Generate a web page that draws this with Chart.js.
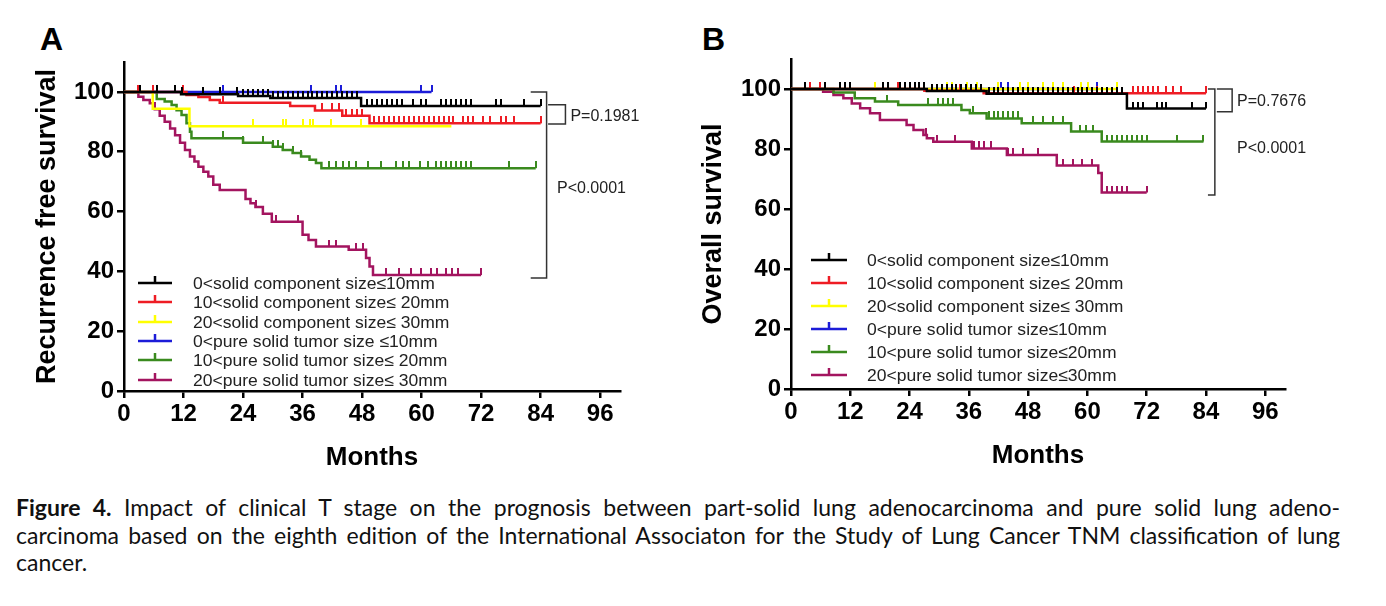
<!DOCTYPE html>
<html>
<head>
<meta charset="utf-8">
<script src="https://cdn.jsdelivr.net/npm/chart.js@4/dist/chart.umd.min.js"></script>
<style>
body { margin: 0; background: #fff; width: 1386px; height: 606px; position: relative; overflow: hidden; font-family: "Liberation Sans", Arial, sans-serif; }
.panel { position: absolute; top: 0; width: 690px; height: 480px; }
.letter { position: absolute; top: 23px; font: bold 32px/32px "Liberation Sans", Arial, sans-serif; color: #000; }
.caption { position: absolute; left: 16px; top: 494px; width: 1324px; font-family: Lato, "Noto Sans", sans-serif; font-size: 23px; line-height: 27.5px; color: #111; }
.caption .cl { text-align: justify; text-align-last: justify; }
</style>
</head>
<body>
<div class="letter" style="left:40px">A</div>
<div class="letter" style="left:702px">B</div>
<div class="panel" style="left:0px"><canvas id="chartA" width="690" height="480"></canvas></div>
<div class="panel" style="left:666px"><canvas id="chartB" width="690" height="480"></canvas></div>
<div class="caption">
  <div class="cl"><b>Figure 4.</b> Impact of clinical T stage on the prognosis between part-solid lung adenocarcinoma and pure solid lung adeno-</div>
  <div class="cl">carcinoma based on the eighth edition of the International Associaton for the Study of Lung Cancer TNM classification of lung</div>
  <div>cancer.</div>
</div>
<script>
// groups and tick labels
var labelsA = ['0<solid component size\u226410mm', '10<solid component size\u2264 20mm', '20<solid component size\u2264 30mm',
               '0<pure solid tumor size \u226410mm', '10<pure solid tumor size\u2264 20mm', '20<pure solid tumor size\u2264 30mm'];
var labelsB = ['0<solid component size\u226410mm', '10<solid component size\u2264 20mm', '20<solid component size\u2264 30mm',
               '0<pure solid tumor size\u226410mm', '10<pure solid tumor size\u226420mm', '20<pure solid tumor size\u226430mm'];
var seriesColors = ['#000000', '#ee1c24', '#ffff00', '#1c1cd8', '#3a8a1e', '#a3145f'];
var monthTicks = [0, 12, 24, 36, 48, 60, 72, 84, 96];
var survivalTicks = [0, 20, 40, 60, 80, 100];

// A: recurrence free survival (step times, survival after step, censor times)
var rfsBlackT = [0, 11.5, 23, 29.5, 47.8, 84];
var rfsBlackS = [100, 99.2, 98.6, 98, 95.3, 95.3];
var rfsBlackC = [3.2, 6.6, 10.3, 11.6, 15.9, 19.3, 22.7, 24, 25, 26, 27, 28, 29, 30, 31, 32, 33, 34, 35, 36, 37, 38, 39, 40, 41, 42, 43, 44, 45, 46, 47,
                 49, 50, 51, 52, 53, 54, 55, 56, 58.2, 59.9, 60.9, 64, 65, 66, 67, 68, 69, 70, 75, 76, 80.7, 84];
var rfsRedT = [0, 12.6, 15, 17.3, 19.3, 33.5, 38.5, 44, 49.5, 84];
var rfsRedS = [100, 99, 98.3, 97.3, 96.4, 95.3, 93.8, 92, 89.5, 89.5];
var rfsRedC = [2.9, 5.9, 11.9, 20, 40, 42, 43.4, 44.7, 46, 47, 48, 50.5, 51.5, 52.5, 53.5, 54.5, 55.5, 56.5, 57.5, 58.5, 59.5, 60.5, 61.5, 62.5, 63.5,
               64.5, 65.5, 66.3, 68.3, 69.3, 70.3, 72.3, 73.7, 76, 77, 78.6, 84];
var rfsYellowT = [0, 5.8, 13.2, 66];
var rfsYellowS = [100, 94.4, 88.5, 88.5];
var rfsYellowC = [26, 32, 32.7, 36.1, 37.4, 38.1, 41.8, 47.8];
var rfsBlueT = [0, 62];
var rfsBlueS = [100, 100];
var rfsBlueC = [20, 37.8, 42.8, 43.8, 59.9, 62];
var rfsGreenT = [0, 6.6, 8.2, 9.6, 10.6, 11.6, 12.6, 13.3, 13.6, 24, 30, 32, 34, 35.7, 37.4, 38.7, 39.8, 83];
var rfsGreenS = [100, 97.6, 96.8, 95.6, 93.9, 92.3, 89.5, 86.7, 84.5, 83, 81.7, 80.6, 79.6, 78.4, 77.3, 76.2, 74.5, 74.5];
var rfsGreenC = [20, 24, 28, 30, 31, 32, 34, 35.7, 41.4, 42.8, 44.1, 45.4, 46.8, 49.2, 51.8, 54.9, 56.2, 57.5, 59.6, 61.2,
                 63, 64, 65, 66, 67, 68, 69, 70, 77.7, 83];
var rfsMagentaT = [0, 2.9, 3.9, 5.2, 6.2, 7.2, 8.2, 9.3, 10.3, 11.3, 12.3, 13.3, 14.2, 15, 16, 17, 18, 19.3, 24.5, 25.5, 26.5, 28, 29.8,
                   36, 37.2, 38.7, 45.3, 48.8, 49.5, 50.2, 72];
var rfsMagentaS = [100, 98.4, 97.3, 96.2, 94.2, 92, 90, 87.8, 85.5, 83, 80.6, 78.4, 76.7, 75, 73.3, 71.7, 69, 67.2, 64.2, 62.8, 61.5, 59.3, 56.6,
                   52.2, 50.5, 48.3, 47.2, 44.5, 41.6, 38.8, 38.8];
var rfsMagentaC = [26.7, 30.7, 35.1, 41.4, 42.8, 46.8, 48.2, 52.8, 55.5, 57.9, 59.9, 61.9, 63.2, 64.9, 66.2, 67.3, 72];

// B: overall survival
var osBlackT = [0, 27.5, 39.6, 68, 84];
var osBlackS = [100, 99.3, 98.4, 93.5, 93.5];
var osBlackC = [2.8, 6.9, 9.9, 10.9, 11.9, 18.7, 19.7, 22, 23, 24, 25, 26, 27, 28.5, 29.5, 30.5, 31.5, 32.5, 33.5, 34.5, 35.5, 36.5, 37.5, 38.5,
                40, 41, 42, 43, 44, 45, 46, 47, 48, 49, 50, 51, 52, 53, 54, 55, 56, 57, 58, 59, 60, 61, 62, 63, 64, 65, 66, 67,
                69.3, 70.3, 71.3, 74, 75, 76, 81.1, 84];
var osRedT = [0, 27, 39, 84];
var osRedS = [100, 99.4, 98.6, 98.6];
var osRedC = [3.9, 5.9, 21.7, 34.2, 57.2, 62, 69.3, 70.3, 71.3, 72.3, 73.3, 74.3, 76, 77.4, 79, 84];
var osYellowT = [0, 66];
var osYellowS = [100, 100];
var osYellowC = [17, 31.5, 32.5, 35.6, 37.6, 42, 46.4, 48, 51, 53.1, 55.1, 58.8, 60.2, 65.9];
var osBlueT = [0, 62];
var osBlueS = [100, 100];
var osBlueC = [42.6, 43.9, 61.9];
var osGreenT = [0, 8.6, 12.9, 17, 21.7, 34.5, 36.2, 39.6, 46.7, 56.7, 62.9, 83.5];
var osGreenS = [100, 98.8, 96.9, 95.8, 94.7, 93, 91.9, 90.2, 88.6, 85.8, 82.5, 82.5];
var osGreenC = [19.4, 27.8, 29.8, 30.8, 31.8, 32.8, 36.9, 40, 41, 42, 43, 44, 45, 46, 49, 51, 53.1, 55.1, 58.5, 59.8, 61.2,
                64, 65, 66, 67, 68, 69, 70, 71, 72, 78.1, 83.5];
var osMagentaT = [0, 6.5, 8.6, 10.6, 12.3, 14, 16, 18, 23.4, 24.8, 26.8, 27.5, 28.8, 36.6, 43.7, 53.8, 62.2, 62.9, 72];
var osMagentaS = [100, 99.1, 98, 96.9, 95.2, 93.6, 91.9, 89.7, 88, 86.3, 84.7, 83.6, 82.4, 80.2, 78, 74.5, 72, 65.5, 65.5];
var osMagentaC = [27.3, 29.5, 33.2, 37, 38, 39, 40.5, 44, 45, 47, 50, 55, 57, 59, 61, 64, 65, 66, 67, 68, 72];

var FONT = '"Liberation Sans", Arial, sans-serif';

function stepValue(t, times, surv) {
  var v = surv[0];
  for (var i = 0; i < times.length; i++) {
    if (times[i] <= t) v = surv[i];
  }
  return v;
}

// censor mark: short vertical stroke sitting on top of the curve
function tickMark(color) {
  var c = document.createElement('canvas');
  c.width = 2;
  c.height = 14;
  var g = c.getContext('2d');
  g.fillStyle = color;
  g.fillRect(0, 0, 2, 7);
  return c;
}

function buildDatasets(series, labels) {
  var sets = [];
  series.forEach(function (s, i) {
    sets.push({
      type: 'line', label: labels[i], kmLine: true,
      data: s.t.map(function (t, k) { return {x: t, y: s.s[k]}; }),
      stepped: true, borderColor: seriesColors[i], borderWidth: 2.5,
      pointRadius: 0, fill: false, order: i
    });
    sets.push({
      type: 'scatter', label: labels[i] + ' (censored)',
      data: s.c.map(function (t) { return {x: t, y: stepValue(t, s.t, s.s)}; }),
      showLine: false, pointStyle: tickMark(seriesColors[i]), pointRadius: 3,
      borderColor: seriesColors[i], backgroundColor: seriesColors[i], order: i
    });
  });
  return sets;
}

// legend, brackets and p values
var kmExtras = {
  id: 'kmExtras',
  afterDraw: function (chart, args, opts) {
    var ctx = chart.ctx, area = chart.chartArea;
    var xs = chart.scales.x, ys = chart.scales.y;
    ctx.save();
    var lg = opts.legend;
    var lines = chart.data.datasets.filter(function (d) { return d.kmLine; });
    ctx.font = '17px ' + FONT;
    ctx.textBaseline = 'middle';
    lines.forEach(function (ds, i) {
      var y = Math.round(area.top + lg.top + i * lg.gap);
      var x0 = area.left + lg.x0, x1 = area.left + lg.x1, xm = (x0 + x1) / 2;
      ctx.strokeStyle = ds.borderColor;
      ctx.lineWidth = 2.5;
      ctx.beginPath();
      ctx.moveTo(x0, y); ctx.lineTo(x1, y);
      ctx.moveTo(xm, y); ctx.lineTo(xm, y - 7);
      ctx.stroke();
      ctx.fillStyle = '#222';
      ctx.save();
      ctx.translate(area.left + lg.textX, y + 1);
      ctx.scale(1.03, 1);
      ctx.fillText(ds.label, 0, 0);
      ctx.restore();
    });
    ctx.strokeStyle = '#333';
    ctx.lineWidth = 1.5;
    opts.brackets.forEach(function (b) {
      var xa = xs.getPixelForValue(b.x1), xb = xs.getPixelForValue(b.x2);
      var yt = ys.getPixelForValue(b.top), yb = ys.getPixelForValue(b.bottom);
      ctx.beginPath();
      ctx.moveTo(xa, yt); ctx.lineTo(xb, yt); ctx.lineTo(xb, yb); ctx.lineTo(xa, yb);
      ctx.stroke();
    });
    ctx.fillStyle = '#222';
    ctx.font = '16px ' + FONT;
    opts.notes.forEach(function (n) {
      ctx.fillText(n.text, xs.getPixelForValue(n.x), ys.getPixelForValue(n.y));
    });
    ctx.restore();
  }
};

function makeKM(id, series, labels, yTitle, box, extras) {
  var axisGrid = {drawOnChartArea: false, drawTicks: true, tickLength: 7, color: '#000', lineWidth: 2.5};
  return new Chart(document.getElementById(id), {
    type: 'line',
    data: {datasets: buildDatasets(series, labels)},
    plugins: [kmExtras],
    options: {
      responsive: false,
      animation: false,
      layout: {padding: {left: 0, top: box.top, right: box.right, bottom: 0}},
      plugins: {legend: {display: false}, tooltip: {enabled: false}, kmExtras: extras},
      scales: {
        x: {
          type: 'linear', min: 0, max: 100,
          afterBuildTicks: function (s) { s.ticks = monthTicks.map(function (v) { return {value: v}; }); },
          afterFit: function (s) { s.height = box.xHeight; },
          grid: axisGrid,
          border: {display: true, color: '#000', width: 2.5},
          ticks: {color: '#000', padding: 2, maxRotation: 0, font: {family: FONT, size: 24, weight: 'bold'}},
          title: {display: true, text: 'Months', color: '#000', padding: {top: 0, bottom: box.titleBottom},
                  font: {family: FONT, size: 26, weight: 'bold'}}
        },
        y: {
          type: 'linear', min: 0, max: 110,
          afterBuildTicks: function (s) { s.ticks = survivalTicks.map(function (v) { return {value: v}; }); },
          afterFit: function (s) { s.width = box.yWidth; },
          grid: axisGrid,
          border: {display: true, color: '#000', width: 2.5},
          ticks: {color: '#000', padding: 3, font: {family: FONT, size: 24, weight: 'bold'}},
          title: {display: true, text: yTitle, color: '#000', padding: {top: 31, bottom: 0},
                  font: {family: FONT, size: 27, weight: 'bold'}}
        }
      }
    }
  });
}

makeKM('chartA', [
  {t: rfsBlackT, s: rfsBlackS, c: rfsBlackC},
  {t: rfsRedT, s: rfsRedS, c: rfsRedC},
  {t: rfsYellowT, s: rfsYellowS, c: rfsYellowC},
  {t: rfsBlueT, s: rfsBlueS, c: rfsBlueC},
  {t: rfsGreenT, s: rfsGreenS, c: rfsGreenC},
  {t: rfsMagentaT, s: rfsMagentaS, c: rfsMagentaC}
], labelsA, 'Recurrence free survival',
  {top: 62, right: 70, yWidth: 124, xHeight: 89, titleBottom: 7},
  {
    legend: {top: 221, gap: 19.3, x0: 14, x1: 48, textX: 69},
    brackets: [{x1: 82, x2: 85.2, top: 100, bottom: 37.8}, {x1: 85.5, x2: 89, top: 95.7, bottom: 89.3}],
    notes: [{text: 'P=0.1981', x: 90, y: 91.6}, {text: 'P<0.0001', x: 87.3, y: 67.6}]
  });

makeKM('chartB', [
  {t: osBlackT, s: osBlackS, c: osBlackC},
  {t: osRedT, s: osRedS, c: osRedC},
  {t: osYellowT, s: osYellowS, c: osYellowC},
  {t: osBlueT, s: osBlueS, c: osBlueC},
  {t: osGreenT, s: osGreenS, c: osGreenC},
  {t: osMagentaT, s: osMagentaS, c: osMagentaC}
], labelsB, 'Overall survival',
  {top: 59, right: 71, yWidth: 125, xHeight: 91, titleBottom: 9},
  {
    legend: {top: 201, gap: 23, x0: 20, x1: 56, textX: 76},
    brackets: [{x1: 84.4, x2: 85.8, top: 100, bottom: 64.7}, {x1: 86.2, x2: 89.3, top: 100, bottom: 92.4}],
    notes: [{text: 'P=0.7676', x: 90.3, y: 95.7}, {text: 'P<0.0001', x: 90.3, y: 80.3}]
  });
</script>
</body>
</html>
